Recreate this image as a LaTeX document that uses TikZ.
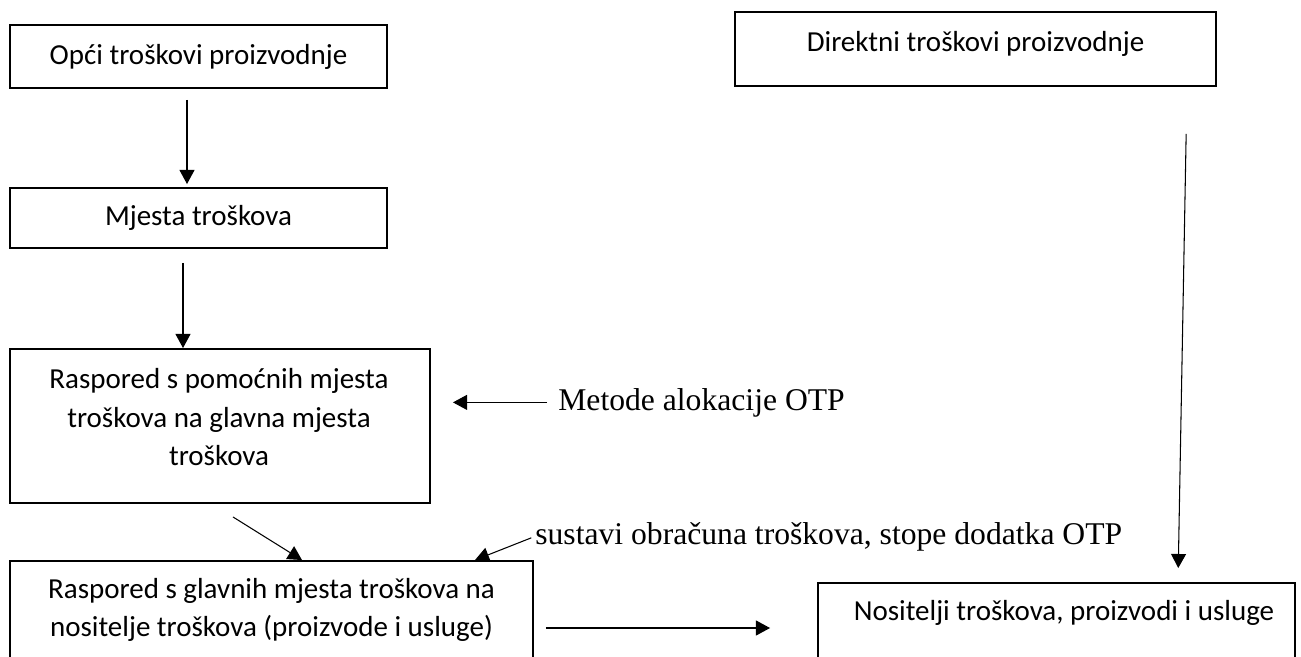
\documentclass[tikz,border=0pt]{standalone}
\usepackage{fontspec}
\setmainfont{Liberation Serif}
\newfontfamily\calibri{Carlito}
\usetikzlibrary{arrows.meta}
\tikzset{
    RA/.style ={rectangle, draw, line width=1.1pt, inner sep=0pt},
    TX/.style ={font=\calibri\fontsize{16.5}{21.9}\selectfont, align=center, inner sep=0pt},
    TR/.style ={font=\fontsize{18}{22}\selectfont, inner sep=0pt},
    AR/.style ={-{Triangle[length=8pt,width=8.5pt]}, line width=.6pt}}

\begin{document}
\begin{tikzpicture}
        \useasboundingbox (0,0) rectangle (26.02,-13.14);
        \clip (0,0) rectangle (26.02,-13.14);
        \node[RA, TX, minimum width=7.54cm, minimum height=1.26cm] (opci) at (3.97,-1.13) {Opći troškovi proizvodnje};
        \node[RA, TX, minimum width=7.54cm, minimum height=1.2cm] (mjesta) at (3.97,-4.36) {Mjesta troškova};
        \node[RA, minimum width=8.4cm, minimum height=3.08cm] (pomocna) at (4.4,-8.52) {};
        \node[TX] (pomocnatxt) at (4.38,-8.35) {Raspored s pomoćnih mjesta\\troškova na glavna mjesta\\troškova};
        \node[RA, minimum width=9.62cm, minimum height=1.48cm] (direktni) at (19.51,-0.98) {};
        \node[TX] (direktnitxt) at (19.51,-0.88) {Direktni troškovi proizvodnje};
        \node[RA, minimum width=10.46cm, minimum height=2.68cm] (glavna) at (5.43,-12.56) {};
        \node[TX] (glavnatxt) at (5.43,-12.2) {Raspored s glavnih mjesta troškova na\\nositelje troškova (proizvode i usluge)};
        \node[RA, minimum width=9.54cm, minimum height=1.8cm] (nositelji) at (21.13,-12.56) {};
        \node[TX] (nositeljitxt) at (21.28,-12.26) {Nositelji troškova, proizvodi i usluge};
        \node[TR, anchor=base west] (metode) at (11.16,-8.2) {Metode alokacije OTP};
        \node[TR, anchor=base west] (sustavi) at (10.7,-10.88) {sustavi obračuna troškova, stope dodatka OTP};
        \draw[AR, shorten <=0.22cm, shorten >=0.06cm] ([xshift=-0.23cm]opci.south) -- ([xshift=-0.23cm]mjesta.north);
        \draw[AR, shorten <=0.28cm] ([xshift=-0.31cm]mjesta.south) -- ([xshift=-0.31cm]mjesta.south |- pomocna.north);
        \draw[AR, shorten <=0.22cm, shorten >=0.44cm] (metode.west) -- (metode.west -| pomocna.east);
        \draw[AR] ([shift={(0.26,-0.26)}]pomocna.south) -- ([xshift=0.61cm]glavna.north);
        \draw[AR, shorten <=0.08cm] (sustavi.west) -- ([xshift=4.07cm]glavna.north);
        \draw[AR, shorten <=0.24cm, shorten >=0.94cm] (glavna.east) -- (nositelji.west);
        \draw[AR, shorten <=0.94cm, shorten >=0.28cm] ([xshift=4.23cm]direktni.south) -- ([xshift=2.43cm]nositelji.north);
    \end{tikzpicture}
\end{document}
